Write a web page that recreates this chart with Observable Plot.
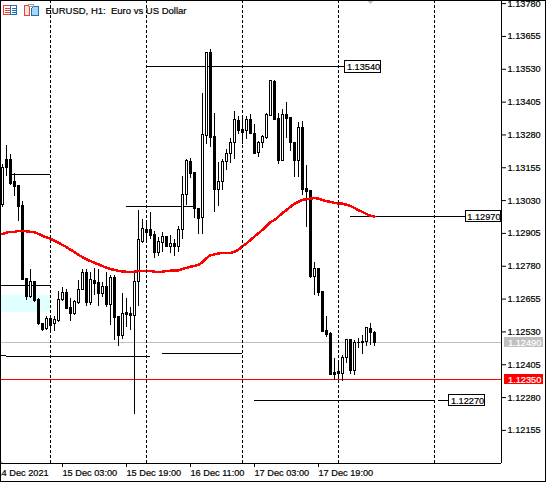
<!DOCTYPE html>
<html><head><meta charset="utf-8">
<script src="https://cdn.jsdelivr.net/npm/d3@7"></script>
<script src="https://cdn.jsdelivr.net/npm/@observablehq/plot@0.6"></script>
<style>html,body{margin:0;padding:0;background:#fff;overflow:hidden}#c{position:relative;width:546px;height:482px;overflow:hidden}svg{display:block}
#c g[aria-label*="tick label"] text{stroke:#000;stroke-width:.2px}
#b{position:absolute;left:0;top:0;width:544px;height:480px;border:1px solid #000;pointer-events:none}
#o{position:absolute;left:0;top:0;pointer-events:none}</style>
</head><body><div id="c"></div>
<script>
// OHLC of the H1 bars, in 1e-5 price units
const opens=[113013,113185,113185,113101,113086,113009,112730,112663,112720,112651,112559,112542,112578,112559,112571,112650,112679,112622,112597,112641,112688,112753,112641,112723,112715,112673,112701,112632,112736,112587,112514,112601,112597,112591,112721,112873,112905,112918,112898,112831,112870,112890,112854,112865,112854,112917,113050,113177,113134,112998,112963,113277,113591,113271,113070,113102,113178,113206,113248,113333,113289,113296,113337,113282,113210,113248,113269,113353,113481,113340,113182,113356,113343,113250,113182,113305,113073,113068,112738,112769,112682,112532,112522,112373,112376,112371,112429,112498,112382,112489,112490,112490,112540,112524];
const highs=[113166,113238,113204,113135,113089,113026,112735,112768,112720,112658,112559,112590,112587,112590,112682,112698,112692,112658,112648,112724,112768,112768,112755,112772,112768,112717,112755,112743,112743,112590,112677,112658,112622,112762,112994,112959,112956,112984,112911,112890,112908,112890,112898,112880,112933,113121,113185,113191,113134,113001,113436,113595,113604,113362,113176,113185,113223,113267,113369,113349,113349,113352,113356,113318,113254,113276,113362,113489,113489,113362,113378,113403,113343,113250,113327,113330,113162,113070,112796,112769,112682,112590,112527,112429,112408,112442,112498,112498,112499,112505,112518,112547,112563,112533];
const lows=[113003,113121,113086,113045,112950,112726,112649,112659,112641,112556,112533,112537,112536,112531,112567,112645,112616,112571,112594,112635,112686,112626,112631,112667,112628,112660,112622,112555,112498,112476,112502,112548,112536,112214,112628,112865,112867,112883,112809,112819,112834,112853,112829,112819,112831,112880,113013,113115,112963,112900,112902,113242,113234,112984,113009,113070,113144,113173,113185,113280,113242,113261,113280,113204,113195,113229,113263,113352,113334,113169,113178,113267,113215,113117,113119,113049,112927,112733,112668,112664,112527,112508,112366,112344,112349,112340,112410,112369,112363,112465,112444,112473,112477,112473];
const closes=[113154,113153,113095,113083,113007,112728,112664,112720,112648,112559,112537,112580,112552,112574,112650,112679,112618,112597,112644,112688,112753,112641,112726,112713,112673,112701,112632,112736,112584,112514,112597,112594,112591,112720,112880,112921,112918,112895,112831,112872,112890,112854,112865,112854,112917,113051,113181,113130,112997,112961,113279,113591,113269,113071,113102,113178,113206,113248,113336,113296,113299,113336,113284,113207,113248,113273,113356,113485,113337,113182,113355,113341,113250,113182,113305,113070,113063,112739,112768,112679,112529,112519,112367,112367,112371,112429,112498,112382,112486,112486,112486,112544,112524,112489];
// Moving average per bar, 1e-5 price units
const ma=[112903,112908,112911,112911,112915,112915,112913,112911,112909,112903,112896,112890,112885,112877,112870,112861,112853,112843,112834,112823,112815,112806,112800,112793,112787,112781,112774,112769,112766,112762,112760,112759,112759,112759,112762,112762,112763,112762,112759,112758,112759,112762,112763,112764,112764,112769,112774,112778,112781,112786,112796,112811,112822,112825,112829,112830,112831,112831,112835,112843,112857,112867,112880,112893,112906,112919,112933,112948,112956,112969,112983,112994,113006,113018,113026,113032,113036,113037,113040,113037,113032,113028,113025,113021,113019,113018,113014,113009,113002,112993,112987,112979,112972,112969];
// Daily separators (bar index)
const separators=[12,36,60,84,108];
// Black level segments: bar from, bar to, price
const segFrom=[2.5,31,36,-1,-1,1,40,63,87,109];
const segTo=[12,48.5,85.6,12,1,37,60,108,115.7,111.6];
const segPrice=[1.13131,1.13009,1.13540,1.12705,1.12441,1.12437,1.12448,1.12270,1.12970,1.12270];
// Boxed labels
const boxFrom=[85.6,115.7,111.6];
const boxTo=[94.4,124.4,120.4];
const boxPrice=[1.13540,1.12970,1.12270];
// Axes
const priceTicks=[1.13780,1.13655,1.13530,1.13405,1.13280,1.13155,1.13030,1.12905,1.12780,1.12655,1.12530,1.12405,1.12280,1.12155];
const timeBars=[-1.5,15,31,47,63,79];
const timeLabels=["14 Dec 2021","15 Dec 03:00","15 Dec 19:00","16 Dec 11:00","17 Dec 03:00","17 Dec 19:00"];
const bidPrice=1.12490, askPrice=1.12350;
const priceMin=1.12029, priceMax=1.13788;
const title="EURUSD, H1:  Euro vs US Dollar";

const bars=opens.map((o,i)=>({i,o:o/1e5,h:highs[i]/1e5,l:lows[i]/1e5,c:closes[i]/1e5}));
const maRows=ma.map((v,i)=>({i,v:v/1e5}));
const segs=segPrice.map((p,k)=>({a:segFrom[k],b:segTo[k],p}));
const boxes=boxPrice.map((p,k)=>({a:boxFrom[k],b:boxTo[k],p}));
const quotes=[{p:bidPrice,f:"#C0C0C0"},{p:askPrice,f:"#FF0000"}];
const fmt=d3.format(".5f");
const font="'Liberation Sans',sans-serif";
const crisp={shapeRendering:"crispEdges"};
const W=546,H=482,FS=9.2;

const chart=Plot.plot({
  width:W,height:H,marginLeft:1,marginRight:45,marginTop:1,marginBottom:19,
  style:{fontFamily:font,fontSize:"9px",background:"#fff",color:"#000"},
  x:{type:"linear",domain:[-0.25,124.75],axis:null},
  y:{type:"linear",domain:[priceMin,priceMax],axis:null},
  marks:[
    Plot.rect([{a:-0.25,b:12,y1:1.12670,y2:1.12603}],{x1:"a",x2:"b",y1:"y1",y2:"y2",fill:"#E0FFFF",...crisp}),
    Plot.ruleY([bidPrice],{stroke:"#C0C0C0",...crisp}),
    Plot.ruleY([askPrice],{stroke:"#FF0000",...crisp}),
    Plot.ruleY(segs,{y:"p",x1:"a",x2:"b",stroke:"#000",...crisp}),
    Plot.ruleX(bars,{x:"i",y1:"l",y2:"h",stroke:"#000",...crisp}),
    Plot.rect(bars,{x1:d=>d.i-0.25,x2:d=>d.i+0.25,y1:"o",y2:"c",dx:0.5,fill:d=>d.c>d.o?"#fff":"#000",stroke:"#000",...crisp}),
    Plot.line(maRows,{x:"i",y:"v",stroke:"#FF0000",strokeWidth:2.5,...crisp}),
    Plot.ruleX(separators,{y1:priceMin,y2:priceMax,stroke:"#000",strokeDasharray:"3,2",...crisp}),
    // boxed level labels
    Plot.rect(boxes,{x1:"a",x2:"b",y1:d=>d.p-0.000215,y2:d=>d.p+0.000215,dx:0.5,dy:0.5,fill:"#fff",stroke:"#000",...crisp}),
    Plot.text(boxes,{x:d=>d.a+0.5,y:"p",text:d=>fmt(d.p),textAnchor:"start",fontSize:FS,dy:0.7,fill:"#000",stroke:"#000",strokeWidth:0.2}),
    // bid and ask tags on the price scale
    Plot.rect(quotes,{x1:()=>125.5,x2:()=>135.25,y1:d=>d.p-0.00019,y2:d=>d.p+0.00019,fill:"f",...crisp}),
    Plot.text(quotes,{x:()=>126.4,y:"p",text:d=>fmt(d.p),textAnchor:"start",fontSize:FS,dy:0.7,fill:"#fff",stroke:"#fff",strokeWidth:0.2}),
    // axes
    Plot.axisY(priceTicks,{anchor:"right",tickSize:4,tickPadding:2,tickFormat:fmt,fontSize:FS}),
    Plot.axisX(timeBars,{anchor:"bottom",tickSize:4,tickPadding:2,tickFormat:d=>timeLabels[timeBars.indexOf(d)],textAnchor:"start",fontSize:FS}),
    Plot.ruleX([124.75],{y1:priceMin,y2:priceMax,stroke:"#000",...crisp}),
    Plot.ruleY([priceMin],{x1:-0.25,x2:124.75,stroke:"#000",...crisp}),
    Plot.text([title],{frameAnchor:"top-left",dx:44,dy:9,textAnchor:"start",lineAnchor:"middle",fontSize:9.5,fill:"#000",stroke:"#000",strokeWidth:0.2})
  ]
});
const c=document.getElementById("c");
c.appendChild(chart);
const b=document.createElement("div");b.id="b";c.appendChild(b);
// Toolbar icons and the small grey markers of the terminal window
c.insertAdjacentHTML("beforeend",`<svg id="o" width="546" height="482" shape-rendering="crispEdges" fill="none">
<rect x="3.5" y="5.5" width="7" height="9" stroke="#E8413A"/><rect x="10.5" y="5.5" width="6" height="9" stroke="#1F6FB5"/>
<path d="M5 8.5h5M5 10.5h5M5 12.5h5" stroke="#E8413A"/><path d="M12 8.5h4M12 10.5h4M12 12.5h4" stroke="#1F6FB5"/>
<path d="M24.5 5.5h5v10h-5z" stroke="#E8413A" fill="#FBE3E0"/><path d="M32.5 6.5h6v9h-7v-6z" stroke="#1F6FB5" fill="#A9D6F5"/>
<rect x="28.5" y="4.5" width="5" height="2" stroke="#9A9A9A" fill="#fff"/>
<path d="M367 1h6l-3 3z" fill="#C0C0C0"/><path d="M1 460v3h2z" fill="#C0C0C0"/></svg>`);
</script></body></html>
